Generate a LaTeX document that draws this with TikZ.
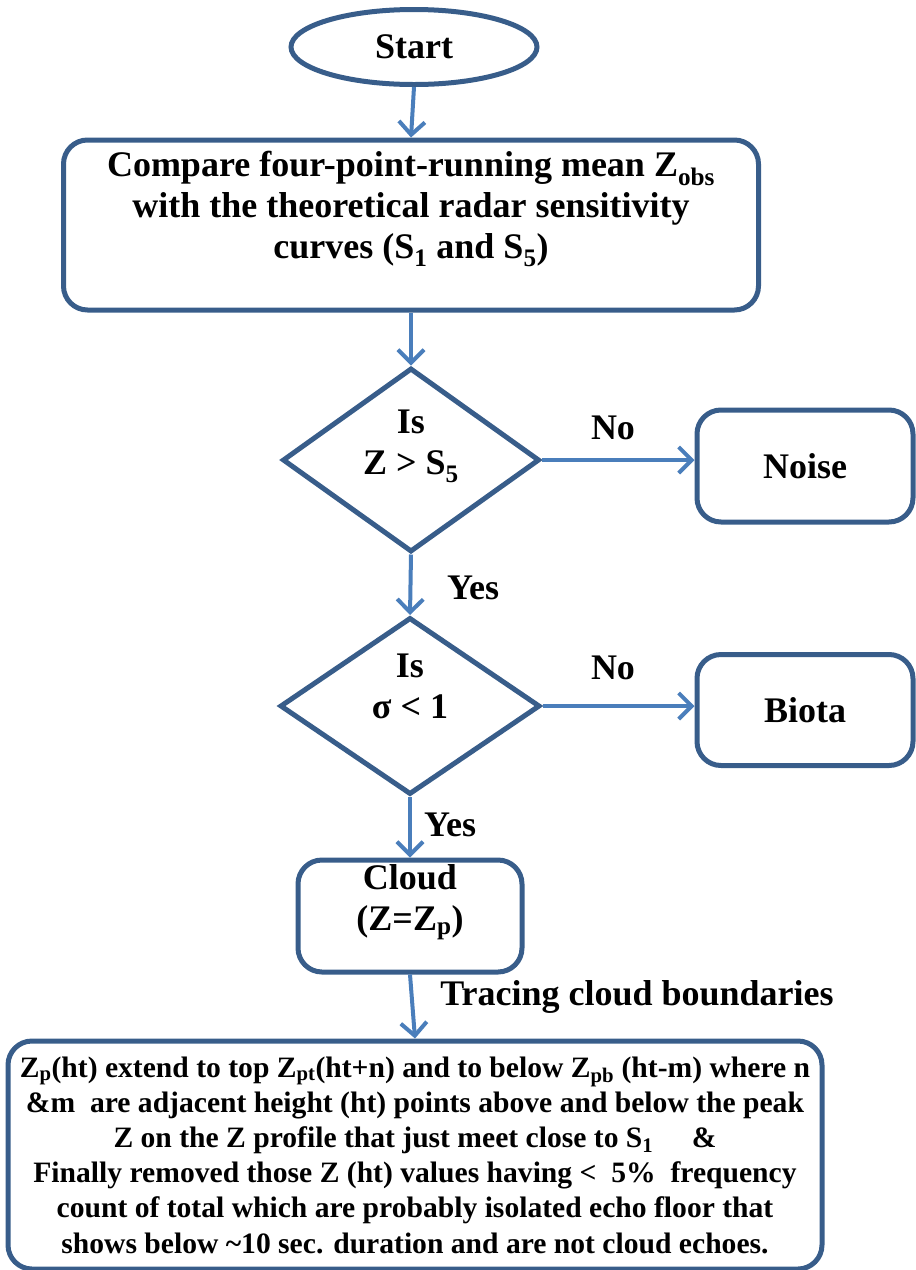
\documentclass[tikz,border=0pt]{standalone}
\usepackage{fontspec}
\setmainfont{Liberation Serif}
\usetikzlibrary{shapes.geometric,arrows.meta}
\definecolor{boxBlue}{RGB}{56,93,138}
\definecolor{arrowBlue}{RGB}{74,126,187}

\begin{document}
\begin{tikzpicture}
[x=1pt,y=-1pt,
  textDecorate/.style={font=\fontsize{36}{41}\selectfont\bfseries,align=center,inner sep=0pt},
  boxDecorate/.style={textDecorate,draw=boxBlue,line width=5pt,rounded corners=24pt},
  startDecorate/.style={textDecorate,shape=ellipse,draw=boxBlue,line width=5pt,minimum width=246pt,minimum height=75pt},
  askDecorate/.style={textDecorate,shape=diamond,draw=boxBlue,line width=5pt,minimum width=257pt,minimum height=184pt},
  inDecorate/.style={textDecorate,yshift=#1},
  lineDecorate/.style={draw=arrowBlue,line width=4pt,-{Straight Barb[length=13pt,width=26pt,line width=4pt]}}]
\useasboundingbox (0,0) rectangle (916,1270);
%% nodes
\node (start) at (414,47) [startDecorate] {Start};
\node (compare) at (411,225) [boxDecorate,minimum width=695pt,minimum height=170pt,
  label={[inDecorate=16pt]center:Compare four-point-running mean Z\textsubscript{obs}\\
   with the theoretical radar sensitivity\\
   curves (S\textsubscript{1} and S\textsubscript{5})}] {};
\node (ask1) at (411,460) [askDecorate,
  label={[inDecorate=14pt]center:Is\\Z > S\textsubscript{5}}] {};
\node (noise) at (805,466) [boxDecorate,minimum width=216pt,minimum height=112pt] {Noise};
\node (ask2) at (410,706) [askDecorate,minimum width=260pt,minimum height=177pt,
  label={[inDecorate=20pt]center:Is\\σ < 1}] {};
\node (biota) at (805,710) [boxDecorate,minimum width=216pt,minimum height=111pt] {Biota};
\node (cloud) at (410,916) [boxDecorate,minimum width=224pt,minimum height=112pt,
  label={[inDecorate=14pt]center:Cloud\\(Z=Z\textsubscript{p})}] {};
\node (trace) at (415,1155) [boxDecorate,minimum width=814pt,minimum height=228pt,
  font=\fontsize{29.6}{35.2}\selectfont\bfseries]
  {Z\textsubscript{p}(ht) extend to top Z\textsubscript{pt}(ht+n) and to below Z\textsubscript{pb} (ht-m) where n\\
   \&m\ \ are adjacent height (ht) points above and below the peak\\
   Z on the Z profile that just meet close to S\textsubscript{1}\hspace{1.3em}\&\\
   Finally removed those Z (ht) values having <\ \ 5\%\ \ frequency\\
   count of total which are probably isolated echo floor that\\
   shows below \textasciitilde10 sec. duration and are not cloud echoes.};
%% labels
\node (no1) at (613,428) [textDecorate] {No};
\node (no2) at (613,668) [textDecorate] {No};
\node (yes1) at (473,588) [textDecorate] {Yes};
\node (yes2) at (450,825) [textDecorate] {Yes};
\node (tracing) at (637,997) [textDecorate] {Tracing cloud boundaries};
%% connectors
\foreach \startnode/\endnode in {start/compare, compare/ask1, ask1/ask2, ask2/cloud, cloud/trace}
{
  \draw[lineDecorate] (\startnode.south) -- (\endnode.north);
}
\draw[lineDecorate] (ask1.east) -- (noise.west |- ask1.east);
\draw[lineDecorate] (ask2.east) -- (biota.west |- ask2.east);
\end{tikzpicture}
\end{document}
